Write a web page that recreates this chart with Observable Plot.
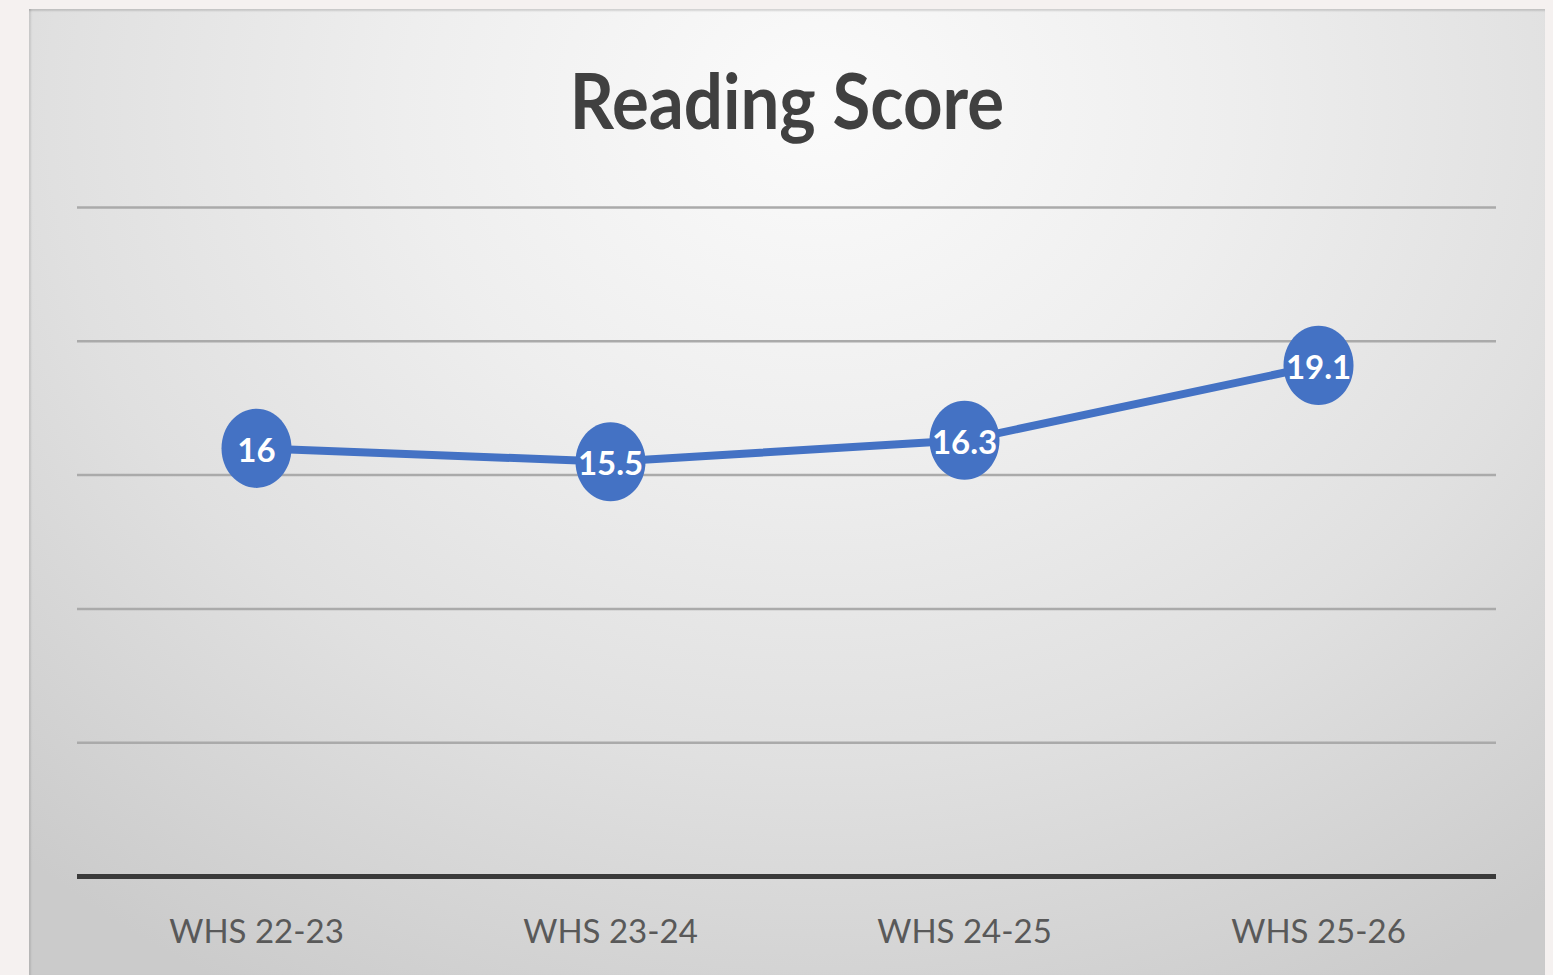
<!DOCTYPE html>
<html>
<head>
<meta charset="utf-8">
<script src="https://cdn.jsdelivr.net/npm/d3@7"></script>
<script src="https://cdn.jsdelivr.net/npm/@observablehq/plot@0.6"></script>
<style>
  html, body { margin: 0; padding: 0; background: #f5f1f0; width: 1553px; height: 975px; overflow: hidden; }
  #panel {
    position: absolute; left: 29px; top: 9px; width: 1516px; height: 966px;
    background: radial-gradient(ellipse 78% 105% at 52% 10%, #fbfbfb 0%, #eeeeee 35%, #e0e0e0 65%, #cbcbcb 100%);
    box-shadow: inset 0 3px 2px -1px rgba(0,0,0,0.14), inset 3px 0 2px -1px rgba(0,0,0,0.10);
  }
  #title {
    position: absolute; left: 0; top: 48px; width: 100%; text-align: center;
    font-family: Lato, "Open Sans", sans-serif; font-weight: 700; font-size: 69px; line-height: 86px;
    color: #404040;
  }
  #title span { display: inline-block; transform: scaleY(1.1); }
  #chart { position: absolute; left: 0; top: 170px; }
</style>
</head>
<body>
<div id="panel">
  <div id="title"><span>Reading Score</span></div>
  <div id="chart"></div>
</div>
<script>
const titleText = "Reading Score";
const seasons = ["WHS 22-23", "WHS 23-24", "WHS 24-25", "WHS 25-26"];
const scores = [16, 15.5, 16.3, 19.1];
const gridValues = [5, 10, 15, 20, 25];

const data = seasons.map((s, i) => ({season: s, score: scores[i]}));

// ellipse-shaped marker (slightly taller than wide, as in the reference)
const ellipseSymbol = {
  draw(context, size) {
    const r = Math.sqrt(size / Math.PI);
    const rx = r, ry = r * 1.13, k = 0.5523;
    context.moveTo(rx, 0);
    context.bezierCurveTo(rx, ry * k, rx * k, ry, 0, ry);
    context.bezierCurveTo(-rx * k, ry, -rx, ry * k, -rx, 0);
    context.bezierCurveTo(-rx, -ry * k, -rx * k, -ry, 0, -ry);
    context.bezierCurveTo(rx * k, -ry, rx, -ry * k, rx, 0);
    context.closePath();
  }
};

const chart = Plot.plot({
  width: 1516,
  height: 787,
  marginTop: 28,
  marginBottom: 90,
  marginLeft: 48,
  marginRight: 49,
  style: {background: "transparent", fontFamily: "Lato, 'Open Sans', sans-serif", overflow: "visible"},
  x: {type: "point", domain: seasons, padding: 0.5, label: null},
  y: {domain: [0, 25], axis: null},
  marks: [
    Plot.ruleY(gridValues, {stroke: "#aaaaaa", strokeWidth: 2.5}),
    Plot.ruleY([0], {stroke: "#3a3a3a", strokeWidth: 5}),
    Plot.axisX({tickSize: 0, tickPadding: 43, fontSize: 33, color: "#595959", label: null}),
    Plot.line(data, {x: "season", y: "score", stroke: "#4472C4", strokeWidth: 8}),
    Plot.dot(data, {x: "season", y: "score", r: 35, symbol: ellipseSymbol, fill: "#4472C4", stroke: "none"}),
    Plot.text(data, {x: "season", y: "score", text: d => String(d.score), dy: 3, fill: "white", fontSize: 33, fontWeight: "bold"})
  ]
});
document.getElementById("chart").appendChild(chart);
</script>
</body>
</html>
